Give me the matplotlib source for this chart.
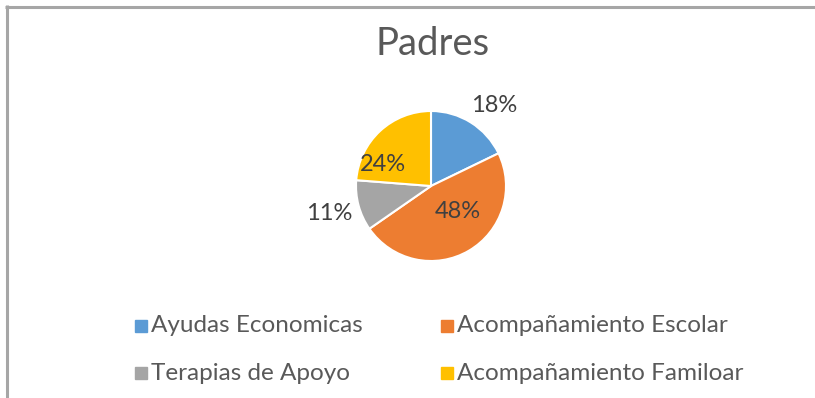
import matplotlib
matplotlib.use('Agg')
import matplotlib.pyplot as plt
import numpy as np
from matplotlib.lines import Line2D
from matplotlib.patches import Rectangle

categorias = ['Ayudas Economicas', 'Acompañamiento Escolar',
              'Terapias de Apoyo', 'Acompañamiento Familoar']
valores = [18, 48, 11, 24]
colores = ['#5B9BD5', '#ED7D31', '#A5A5A5', '#FFC000']
# distancia de cada etiqueta al centro (en radios) y giro respecto al centro de la porción
dist_etiquetas = [1.37, 0.49, 1.4, 0.70]
giro_etiquetas = [-6, 16, 0, 23]

plt.rcParams['font.family'] = ['Lato', 'DejaVu Sans']
gris_texto = '#595959'

W, H = 815, 398
fig = plt.figure(figsize=(W / 100, H / 100), dpi=100)

# marco del gráfico (solo arriba e izquierda)
fig.add_artist(Line2D([6.5 / W, 6.5 / W], [0, 1 - 5 / H], transform=fig.transFigure,
                      color='#A6A6A6', lw=2.2, solid_capstyle='butt'))
fig.add_artist(Line2D([5 / W, 1], [1 - 6.5 / H, 1 - 6.5 / H], transform=fig.transFigure,
                      color='#A6A6A6', lw=2.2, solid_capstyle='butt'))

cx, cy, r = 431, 186, 75
ax = fig.add_axes([(cx - r) / W, 1 - (cy + r) / H, 2 * r / W, 2 * r / H])
wedges, _ = ax.pie(valores, colors=colores, startangle=90, counterclock=False,
                   wedgeprops=dict(edgecolor='white', linewidth=1.5))
ax.set_xlim(-1, 1)
ax.set_ylim(-1, 1)
ax.axis('off')

for w, v, d, g in zip(wedges, valores, dist_etiquetas, giro_etiquetas):
    ang = np.deg2rad((w.theta1 + w.theta2) / 2 + g)
    ax.text(d * np.cos(ang), d * np.sin(ang), f'{v}%', ha='center', va='center',
            fontsize=17, color='#404040', clip_on=False)

fig.text(433 / W, 1 - 44 / H, 'Padres', ha='center', va='center',
         fontsize=27.5, color=gris_texto)

# leyenda en dos filas
pos_leyenda = [(135, 326), (441, 326), (135, 373), (441, 373)]
for (x, y), nombre, c in zip(pos_leyenda, categorias, colores):
    fig.add_artist(Rectangle((x / W, 1 - (y + 6) / H), 12 / W, 12 / H,
                             transform=fig.transFigure, color=c))
    fig.text((x + 16) / W, 1 - y / H, nombre, ha='left', va='center',
             fontsize=17.5, color=gris_texto)

fig.savefig('out.png', dpi=100)
